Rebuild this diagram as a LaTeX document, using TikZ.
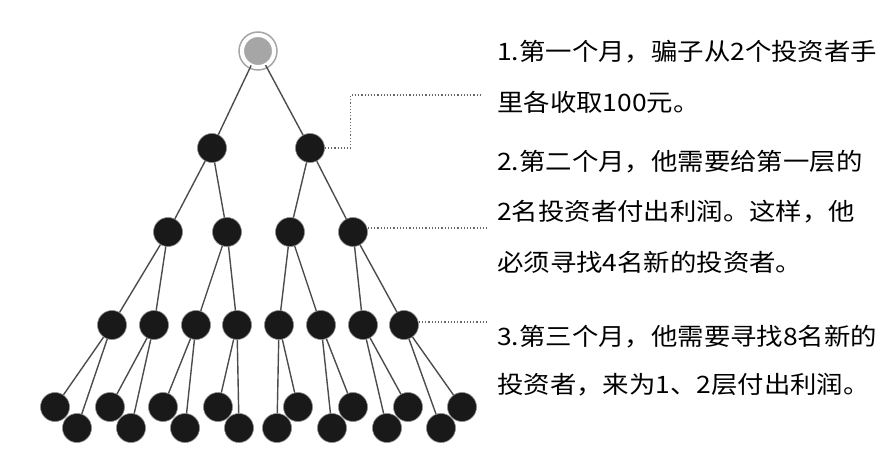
\documentclass[tikz,border=0pt]{standalone}
\usepackage{fontspec}
\setmainfont{Noto Sans CJK SC}
\begin{document}
\begin{tikzpicture}[x=1pt,y=-1pt,
  dot/.style={circle,fill=black!90,draw=black!45,line width=0.6pt,minimum size=29pt,inner sep=0pt},
  topdot/.style={circle,fill=black!35,draw=white,line width=2pt,minimum size=30pt,inner sep=0pt},
  link/.style={draw=black!70,line width=1.4pt},
  guide/.style={draw=black!60,line width=1.2pt,dotted},
  note/.style={anchor=west,font=\fontsize{24pt}{28pt}\selectfont,inner sep=0pt,xscale=1.1}]
\useasboundingbox (0,0) rectangle (892,474);
% root
\node[topdot] (r) at (258,51) {};
\draw[black!35,line width=1.5pt] (r) circle (19pt);
% level 1 and 2
\node[dot] (a1) at (212,148) {};
\node[dot] (a2) at (310,148) {};
\foreach \x [count=\i] in {168,227,290,353}
  \node[dot] (b\i) at (\x,232) {};
% level 3
\foreach \x [count=\i] in {112,154,196,237,279,321,363,404}
  \node[dot] (c\i) at (\x,325) {};
% level 4
\foreach \x/\y [count=\i] in {55/407,77/428,110/407,131/428,163/407,185/428,218/407,239/428,
    277/428,298/407,332/428,353/407,387/428,408/407,441/428,462/407}
  \node[dot] (d\i) at (\x,\y) {};
\draw[link] (r) -- (a1) (r) -- (a2)
  (a1) -- (b1) (a1) -- (b2) (a2) -- (b3) (a2) -- (b4);
\foreach \i in {1,...,4}{
  \pgfmathtruncatemacro{\p}{2*\i-1}\pgfmathtruncatemacro{\q}{2*\i}
  \draw[link] (b\i) -- (c\p) (b\i) -- (c\q);}
\foreach \i in {1,...,8}{
  \pgfmathtruncatemacro{\p}{2*\i-1}\pgfmathtruncatemacro{\q}{2*\i}
  \draw[link] (c\i) -- (d\p) (c\i) -- (d\q);}
% dotted guides
\coordinate (g1) at (480,95);
\coordinate (g2) at (488,228);
\coordinate (g3) at (488,322);
\draw[guide] (a2.east) -- ++(26,0) |- (g1);
\draw[guide] (b4.east |- g2) -- (g2);
\draw[guide] (c8.east |- g3) -- (g3);
% notes
\node[note] (t1) at (497,52) {1.第一个月，骗子从2个投资者手};
\node[note] (t2) at (497,102) {里各收取100元。};
\node[note] (t3) at (497,162) {2.第二个月，他需要给第一层的};
\node[note] (t4) at (497,212) {2名投资者付出利润。这样，他};
\node[note] (t5) at (497,262) {必须寻找4名新的投资者。};
\node[note] (t6) at (497,337) {3.第三个月，他需要寻找8名新的};
\node[note] (t7) at (497,385) {投资者，来为1、2层付出利润。};
\end{tikzpicture}
\end{document}
